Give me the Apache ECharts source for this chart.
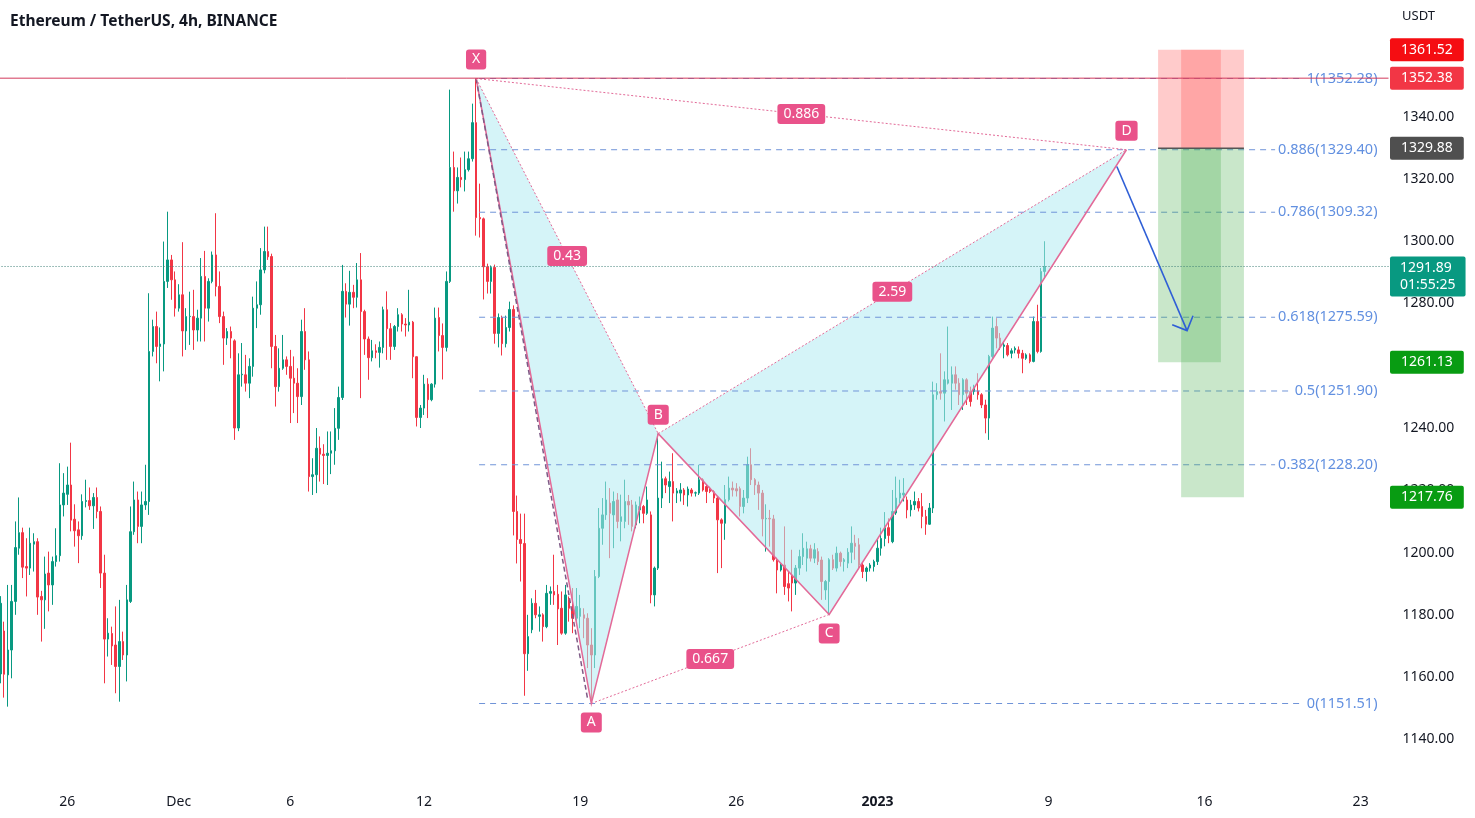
<!DOCTYPE html>
<html>
<head>
<meta charset="utf-8">
<title>Ethereum / TetherUS, 4h</title>
<script src="https://cdn.jsdelivr.net/npm/echarts@6/dist/echarts.min.js"></script>
<style>
html, body { margin: 0; padding: 0; background: #fff; }
#chart { width: 1475px; height: 818px; }
</style>
</head>
<body>
<div id="chart"></div>
<script>
// 4h candles, ETH/USDT (Binance), [open, close, low, high]
var ohlc = [
  [1161, 1183.7, 1158, 1186], [1174.8, 1160.9, 1153.4, 1177.8], [1160.7, 1168.7, 1150.5, 1189.6], [1168.7, 1184.3, 1159.6, 1189.6],
  [1184.3, 1201.6, 1180, 1210], [1201.4, 1206.4, 1199.3, 1217.7], [1206.4, 1195.3, 1191.8, 1208], [1195.5, 1195, 1185.9, 1204.6],
  [1195, 1203, 1192.8, 1208], [1202.7, 1203.5, 1193.9, 1206.2], [1203.5, 1185.7, 1180, 1204.6], [1185.9, 1184.8, 1171.4, 1187.7],
  [1184.8, 1193.1, 1175.5, 1198.7], [1193.4, 1189.6, 1181.1, 1200.3], [1189.6, 1197.1, 1183.2, 1198.7], [1197.1, 1199, 1195.5, 1207.8],
  [1199, 1215.3, 1197.1, 1228.7], [1215.3, 1219.1, 1211.6, 1225.5], [1218.7, 1221.7, 1215.3, 1227.6], [1221.7, 1210.4, 1206.8, 1235.3],
  [1210.7, 1207, 1201.9, 1215.5], [1207.3, 1205.4, 1196.6, 1210], [1205.4, 1216.4, 1204.1, 1218.7], [1216.4, 1216.7, 1214.5, 1223.4],
  [1216.7, 1215, 1213.7, 1220.9], [1215, 1217.7, 1207.6, 1219.1], [1217.7, 1213.2, 1211, 1220.9], [1213.2, 1193.4, 1188.6, 1214.8],
  [1193.4, 1172.2, 1158, 1199.3], [1172.2, 1174.1, 1166.6, 1178.9], [1174, 1170, 1163.9, 1176.2], [1170.3, 1163.4, 1154.8, 1182.7],
  [1163.4, 1171.4, 1152.1, 1184.8], [1171.4, 1167.1, 1165.5, 1174.6], [1167.1, 1184.8, 1158.6, 1189.6], [1184.3, 1206.7, 1183.8, 1214.8],
  [1206.7, 1216.9, 1205.7, 1222.8], [1216.9, 1208.4, 1203, 1219.6], [1208.4, 1215.3, 1203, 1219.6], [1215.3, 1216.4, 1213.7, 1228.2],
  [1216.4, 1264.6, 1212.1, 1283.3], [1264.6, 1272.6, 1263, 1274.8], [1272.6, 1266.2, 1260.8, 1277.4], [1266.2, 1267, 1255, 1272.3],
  [1267, 1287.1, 1258.2, 1299.9], [1287.1, 1294, 1285, 1309.5], [1294, 1287.6, 1281.2, 1295.6], [1287.6, 1278.5, 1275.8, 1290.3],
  [1278.5, 1282.8, 1277.4, 1286.2], [1282.8, 1271.2, 1263, 1299.7], [1271.2, 1275.8, 1265.1, 1278.5], [1275.8, 1275.9, 1266.7, 1283.8],
  [1275.8, 1271.5, 1265.1, 1284.4], [1271.5, 1275.3, 1267.8, 1278], [1275.3, 1288.7, 1267.8, 1294.6], [1288.7, 1278.5, 1267.8, 1296.9],
  [1278.5, 1287.1, 1274.2, 1288.1], [1287.1, 1295.6, 1286.5, 1296.7], [1295.6, 1285.5, 1282.3, 1309], [1285.5, 1275.8, 1273.7, 1290.3],
  [1275.8, 1268.9, 1260.3, 1277.4], [1268.9, 1271, 1266.7, 1272.1], [1271, 1268.9, 1262.4, 1272.6], [1268, 1240, 1236.2, 1268.5],
  [1240, 1257.1, 1239, 1264], [1257.1, 1257.3, 1253.3, 1267.3], [1257.1, 1254.4, 1251.7, 1263.5], [1254.4, 1259.8, 1249.6, 1262.4],
  [1259.8, 1278.5, 1256.5, 1282.2], [1278.5, 1279.6, 1272.1, 1287.1], [1279.6, 1290.8, 1276.4, 1297.8], [1290.8, 1296.7, 1289.7, 1304.7],
  [1296.7, 1295, 1294, 1304.7], [1295.1, 1266.2, 1259.2, 1296], [1266.2, 1253.3, 1246.9, 1269.9], [1253.3, 1259.2, 1251.7, 1265.6],
  [1259.2, 1261.9, 1258.7, 1269.9], [1261.9, 1259.8, 1257.1, 1263], [1259.8, 1256, 1241.6, 1265.1], [1256, 1254.4, 1244.8, 1263],
  [1254.4, 1250.1, 1241.6, 1259.2], [1250.1, 1271, 1247.4, 1274.8], [1271, 1261.9, 1258.7, 1278.5], [1261.9, 1224.4, 1219.6, 1264.6],
  [1224.4, 1225, 1218.5, 1230.3], [1225, 1233.5, 1219.1, 1240], [1233.5, 1231.6, 1222.8, 1237.3], [1231.6, 1231.2, 1222, 1234.8],
  [1231.2, 1231.9, 1221.7, 1238.9], [1231.9, 1232.7, 1225.2, 1238.9], [1232.7, 1239.9, 1228.2, 1246.4], [1239.9, 1249.8, 1236.2, 1253.3],
  [1249.8, 1283.9, 1249, 1292.4], [1283.9, 1279.8, 1275.5, 1286.5], [1279.8, 1283.6, 1272.9, 1290.5], [1283.6, 1282, 1278.5, 1286],
  [1282, 1287.6, 1278.7, 1293], [1287.6, 1277.4, 1249.6, 1296.2], [1277.4, 1268.6, 1263.5, 1278], [1268.6, 1262.6, 1255.5, 1269.4],
  [1262.6, 1264.8, 1261.4, 1268.3], [1264.8, 1264.3, 1262.4, 1266.9], [1264.3, 1265.9, 1259.4, 1267.8], [1265.9, 1278, 1264, 1279],
  [1278, 1271.9, 1261.9, 1283.9], [1271.9, 1266.2, 1261.9, 1273.7], [1266.2, 1272.6, 1265.1, 1273.1], [1272.6, 1276.4, 1271, 1278.5],
  [1276.4, 1273.4, 1271, 1276.9], [1273.4, 1273.1, 1269.4, 1275.3], [1273.1, 1274, 1271, 1284.4], [1274, 1262.9, 1256, 1274.4],
  [1262.9, 1243.4, 1240.5, 1263], [1243.4, 1246.4, 1240, 1247.4], [1246.4, 1254.1, 1244.2, 1257.1], [1254.1, 1249.1, 1243.2, 1256],
  [1249.1, 1254.1, 1248.6, 1254.4], [1254.1, 1275.3, 1253, 1278.7], [1275.5, 1269.7, 1264.6, 1278.7], [1269.7, 1265.9, 1255.6, 1273.6],
  [1265.9, 1287.1, 1264.6, 1290.3], [1287.1, 1323.7, 1286.6, 1348.7], [1323.7, 1316.2, 1309.5, 1328.8], [1316.2, 1320.5, 1312.1, 1323.7],
  [1320.5, 1319.8, 1317.3, 1326.9], [1319.8, 1323, 1316, 1328.8], [1323, 1326.5, 1322.4, 1328.8], [1326.5, 1338.1, 1325.6, 1344.2],
  [1338.1, 1307.6, 1301.8, 1352.28], [1307.6, 1307.2, 1301.2, 1318.5], [1307.2, 1291.8, 1281.3, 1307.6], [1291.8, 1287.1, 1283.2, 1292.8],
  [1287.1, 1291.6, 1283.2, 1292.2], [1291.6, 1270.4, 1267.1, 1292.5], [1270.4, 1275.5, 1265.9, 1276.8], [1275.5, 1267.1, 1263.3, 1276.1],
  [1267.1, 1272.3, 1265.9, 1276.1], [1272.3, 1278.1, 1271, 1280.6], [1278.1, 1213.2, 1205.5, 1279.4], [1213.2, 1204.2, 1196.5, 1218.3],
  [1204.2, 1202.9, 1190.7, 1212.5], [1202.9, 1167.5, 1154, 1212.5], [1167.5, 1173, 1162, 1180], [1175.2, 1183.7, 1174.1, 1185.3],
  [1183.7, 1180, 1178.9, 1188], [1179.5, 1180, 1174.6, 1182.7], [1180, 1176.2, 1171.4, 1180.5], [1176.2, 1186.9, 1175.7, 1189.6],
  [1186.9, 1187.5, 1183.2, 1189.1], [1187.5, 1186.4, 1183.2, 1199.3], [1186.6, 1181.9, 1170.3, 1189.6], [1182.1, 1174.1, 1173.6, 1187.5],
  [1174.1, 1186.4, 1173.6, 1189.6], [1185, 1182.1, 1177.8, 1185.9], [1182.1, 1178.9, 1174.1, 1188.6], [1178.9, 1182.7, 1177.8, 1188.6],
  [1179.5, 1182.1, 1175.7, 1186.4], [1180, 1178.9, 1172.5, 1182.1], [1178.9, 1170.3, 1162.9, 1180.5], [1170.3, 1167.1, 1151.51, 1175.7],
  [1167.1, 1192.3, 1162.9, 1194.4], [1192.3, 1207.8, 1191.8, 1214.3], [1207.8, 1212.1, 1202.5, 1217.5], [1212.1, 1216.9, 1210.5, 1222.8],
  [1215.9, 1212.6, 1198.2, 1220.7], [1212.1, 1216.4, 1201.4, 1219.6], [1216.9, 1210, 1207.8, 1219.1], [1210, 1211.5, 1203.6, 1218.6],
  [1210, 1216.4, 1207.8, 1223.4], [1216.4, 1215.3, 1208.9, 1218.5], [1215.3, 1208.4, 1206.8, 1216.9], [1208.9, 1215.3, 1207.8, 1216.4],
  [1213.7, 1214.8, 1209.4, 1218], [1214.8, 1212.6, 1209.4, 1215.3], [1212.6, 1216.9, 1212.1, 1221.2], [1212.1, 1186.4, 1183.7, 1213.2],
  [1186.4, 1195, 1182.7, 1195.5], [1195, 1217.5, 1194.4, 1238.2], [1217.5, 1223.7, 1214.3, 1229.2], [1223.7, 1221.7, 1219.1, 1224.4],
  [1221.2, 1222.8, 1215.9, 1226], [1222.8, 1219.1, 1210, 1231.9], [1219.1, 1219.8, 1215.9, 1220.7], [1219.1, 1220.1, 1216.4, 1222.3],
  [1220.1, 1218.5, 1215.3, 1220.7], [1218.5, 1220.4, 1214.8, 1221.2], [1220.1, 1219.1, 1218, 1220.7], [1219.1, 1219.2, 1218, 1219.6],
  [1219.1, 1223.4, 1218.5, 1228.2], [1223.4, 1220.1, 1219.6, 1223.9], [1221.2, 1219.6, 1215.9, 1221.7], [1220.7, 1219.6, 1219.1, 1221.2],
  [1219.6, 1217.5, 1215.9, 1220.1], [1217.5, 1210.5, 1193.4, 1218], [1210.5, 1209.4, 1195, 1211], [1209.4, 1217, 1204.1, 1221.7],
  [1217, 1220.7, 1216.4, 1224.4], [1220.7, 1220.1, 1218, 1222.8], [1220.5, 1219.8, 1218, 1222.3], [1220.5, 1214.8, 1211.6, 1221.2],
  [1214.8, 1217.5, 1212.6, 1220.1], [1217.5, 1228.2, 1215.9, 1230.8], [1228.2, 1223.4, 1221.7, 1233.5], [1223.4, 1221.7, 1218.5, 1223.9],
  [1221.7, 1219.1, 1213.7, 1222.8], [1219.1, 1210.8, 1205.2, 1220.1], [1210.8, 1211, 1200.3, 1215.5], [1211, 1210.8, 1201.9, 1213.7],
  [1210.8, 1197.7, 1197.1, 1212.1], [1197.7, 1194.4, 1186.9, 1198.4], [1194.4, 1196, 1193.9, 1196.6], [1196, 1189.1, 1186.4, 1208.4],
  [1190, 1188.6, 1184.3, 1193.9], [1192.8, 1190.2, 1181.1, 1200.9], [1190.2, 1195, 1186.4, 1196], [1195, 1198.7, 1192.8, 1200.9],
  [1198.7, 1201.4, 1196, 1206.2], [1198.2, 1201.2, 1193.9, 1203.5], [1201.2, 1198.2, 1197.1, 1202.5], [1198.2, 1200.9, 1196.6, 1203],
  [1200.3, 1197.1, 1196, 1201.4], [1197.6, 1190.7, 1184.8, 1198.7], [1188, 1190.7, 1184.8, 1191.2], [1190.7, 1197.7, 1180.1, 1198.2],
  [1197.7, 1195, 1194.4, 1199.3], [1195, 1199.8, 1193.9, 1201.9], [1199.8, 1197.1, 1195.5, 1200.3], [1197.1, 1197.7, 1193.9, 1198.2],
  [1196.6, 1200.1, 1195, 1201.4], [1200.1, 1203, 1196.6, 1208.4], [1203, 1202, 1197.7, 1205.7], [1202.5, 1196, 1195, 1204.6],
  [1196, 1193.9, 1191.8, 1196.6], [1193.9, 1195, 1190.7, 1195.5], [1195, 1196, 1193.9, 1196.6], [1195.5, 1197.1, 1193.9, 1197.7],
  [1197.1, 1201.4, 1196, 1204.6], [1201.4, 1204.5, 1199, 1208], [1204.5, 1208, 1202, 1213], [1208, 1205.5, 1203, 1211],
  [1203.5, 1213.2, 1203, 1220.1], [1212.7, 1217.5, 1212.1, 1224.4], [1217.5, 1219.1, 1215.9, 1223.4], [1218.5, 1219.1, 1216.4, 1223.9],
  [1216.9, 1213.7, 1211, 1218], [1213.7, 1215.3, 1211.6, 1216.9], [1215.3, 1216.4, 1213.7, 1219.6], [1216.4, 1214.3, 1213.2, 1217.5],
  [1214.8, 1211.6, 1207.8, 1219.1], [1211.6, 1209.1, 1205.7, 1213.7], [1209.1, 1214.3, 1208.9, 1215.9], [1214.3, 1250.7, 1212.7, 1254.9],
  [1250.7, 1251.7, 1249.1, 1254.4], [1251.7, 1251.2, 1249.1, 1264], [1251.2, 1255.5, 1242.1, 1258.2], [1254.4, 1255.5, 1254, 1272.6],
  [1254.4, 1257.1, 1245.8, 1259.8], [1257.1, 1254.4, 1252.3, 1259.8], [1254.4, 1250.7, 1247.4, 1256], [1250.7, 1255.5, 1245.8, 1256],
  [1255.5, 1251.2, 1247.4, 1256], [1251.7, 1248.5, 1246.9, 1253.3], [1251.7, 1252.8, 1250.7, 1253.9], [1251.9, 1250.7, 1249.1, 1257.6],
  [1250.7, 1247.4, 1246.4, 1251.2], [1247.4, 1243.2, 1238.3, 1249.1], [1243.2, 1263, 1236.2, 1263.5], [1263, 1272.1, 1262.4, 1275.8],
  [1272.6, 1268.9, 1265.6, 1275.3], [1268.9, 1266.2, 1265.1, 1270.5], [1266.2, 1266.7, 1262.4, 1267.8], [1266.5, 1263.5, 1263, 1267.3],
  [1264, 1264.8, 1262.4, 1265.6], [1265.1, 1265.6, 1264, 1266.2], [1265.1, 1264, 1262.4, 1266.2], [1264, 1262.4, 1257.6, 1265.1],
  [1262.4, 1263.5, 1261.9, 1264], [1263.5, 1261.4, 1260.8, 1264], [1261.4, 1274.2, 1261.1, 1275.8], [1274.2, 1264.6, 1264, 1279.6],
  [1264.6, 1290.3, 1264.2, 1291.4], [1290.3, 1291.89, 1288.1, 1300]
];

// time slots (4h) from 23 Nov 2022 up to the right edge, incl. empty future slots
var slotCount = 374;
var categories = [];
for (var i = 0; i < slotCount; i++) {
  var d = new Date(Date.UTC(2022, 10, 23) + i * 4 * 3600 * 1000);
  var pad = function (n) { return (n < 10 ? '0' : '') + n; };
  categories.push(d.getUTCFullYear() + '-' + pad(d.getUTCMonth() + 1) + '-' + pad(d.getUTCDate()) + ' ' + pad(d.getUTCHours()) + ':00');
}
var tickSlots = ['2022-11-26 00:00', '2022-12-01 00:00', '2022-12-06 00:00', '2022-12-12 00:00', '2022-12-19 00:00',
  '2022-12-26 00:00', '2023-01-01 08:00', '2023-01-09 00:00', '2023-01-16 00:00', '2023-01-23 00:00'];
var tickLabels = ['26', 'Dec', '6', '12', '19', '26', '2023', '9', '16', '23'];

// harmonic pattern (slot index, price)
var patternNames = ['X', 'A', 'B', 'C', 'D'];
var patternIdx = [128, 159, 177, 223, 303];
var patternVal = [1352.28, 1151.51, 1238.2, 1180.1, 1329.4];
var ratioPairs = [[0, 4], [0, 2], [1, 3], [2, 4]];
var ratioLabels = ['0.886', '0.43', '0.667', '2.59'];
var dashEnd = [158, 1153];

// fib levels
var fibRatios = ['1', '0.886', '0.786', '0.618', '0.5', '0.382', '0'];
var fibValues = [1352.28, 1329.40, 1309.32, 1275.59, 1251.90, 1228.20, 1151.51];

// short position boxes
var posLeft = [311.5, 317.7];
var posRight = [328.4, 334.6];
var posStop = [1361.52, 1361.52];
var posEntry = 1329.88;
var posTarget = [1261.13, 1217.76];

var arrowIdx = [300.4, 319.3];
var arrowVal = [1324.0, 1271.3];

// price scale tags
var tagValues = [1361.52, 1352.38, 1329.88, 1291.89, 1261.13, 1217.76];
var tagColors = ['#f50d12', '#f23645', '#4f4f4f', '#089981', '#089c12', '#089c12'];
var lastPrice = 1291.89;
var countdown = '01:55:25';
var hLine = 1352.38;

var FONT = '"Noto Sans", sans-serif';
var pink = '#e9528a';
var pinkLine = '#e36a98';

function pt(api, idx, val) {
  var i0 = Math.floor(idx);
  var p = api.coord([i0, val]);
  return [p[0] + (idx - i0) * api.size([1, 0])[0], p[1]];
}

function seg(a, b, color, width, dash, z2) {
  return { type: 'line', z2: z2, shape: { x1: a[0], y1: a[1], x2: b[0], y2: b[1] },
    style: { stroke: color, lineWidth: width, lineDash: dash || null } };
}

function renderOverlay(params, api) {
  var bw = api.size([1, 0])[0];
  var left = api.coord([0, 1200])[0] - bw / 2;
  var right = api.coord([slotCount - 1, 1200])[0] + bw / 2;
  var yOf = function (v) { return api.coord([0, v])[1]; };
  var P = patternIdx.map(function (idx, k) { return pt(api, idx, patternVal[k]); });
  var kids = [];

  // pattern fill (over candles)
  var fill = 'rgba(178,235,242,0.55)';
  kids.push({ type: 'polygon', z2: 0, shape: { points: [P[0], P[1], P[2]] }, style: { fill: fill } });
  kids.push({ type: 'polygon', z2: 0, shape: { points: [P[2], P[3], P[4]] }, style: { fill: fill } });

  // fib retracement
  fibValues.forEach(function (v, k) {
    var y = yOf(v);
    kids.push(seg([P[0][0] + 3, y], [right - 10, y], '#7094d8', 1, [6, 5], 1));
    kids.push({ type: 'text', z2: 2, x: right - 8, y: y,
      style: { text: fibRatios[k] + '(' + v.toFixed(2) + ')', fill: '#6290e0', font: '14.5px ' + FONT,
        align: 'right', verticalAlign: 'middle', backgroundColor: '#fff', padding: [1, 3] } });
  });

  // position boxes
  for (var b = 0; b < posLeft.length; b++) {
    var xl = pt(api, posLeft[b], posEntry)[0];
    var xr = pt(api, posRight[b], posEntry)[0];
    var ys = yOf(posStop[b]), ye = yOf(posEntry), yt = yOf(posTarget[b]);
    kids.push({ type: 'rect', z2: 1, shape: { x: xl, y: ys, width: xr - xl, height: ye - ys }, style: { fill: 'rgba(255,82,82,0.3)' } });
    kids.push({ type: 'rect', z2: 1, shape: { x: xl, y: ye, width: xr - xl, height: yt - ye }, style: { fill: 'rgba(76,175,80,0.3)' } });
  }
  var xe1 = pt(api, posLeft[0], posEntry)[0];
  var xe2 = pt(api, posRight[1], posEntry)[0];
  kids.push(seg([xe1, yOf(posEntry)], [xe2, yOf(posEntry)], '#555', 1.5, null, 2));

  // current price + horizontal line
  kids.push(seg([left, yOf(lastPrice)], [right, yOf(lastPrice)], '#3f7f77', 1, [1, 2], 1));
  kids.push(seg([left, yOf(hLine)], [right, yOf(hLine)], '#d23a5c', 1, null, 4));

  // pattern legs
  kids.push({ type: 'polyline', z2: 3, shape: { points: P }, style: { stroke: pinkLine, lineWidth: 1.5, fill: null } });
  kids.push(seg(P[0], pt(api, dashEnd[0], dashEnd[1]), '#7e5a86', 1.5, [5, 3], 3));
  ratioPairs.forEach(function (pr) { kids.push(seg(P[pr[0]], P[pr[1]], pinkLine, 1, [2, 2], 3)); });

  // arrow
  var s = pt(api, arrowIdx[0], arrowVal[0]);
  var t = pt(api, arrowIdx[1], arrowVal[1]);
  var dx = s[0] - t[0], dy = s[1] - t[1], len = Math.sqrt(dx * dx + dy * dy);
  dx /= len; dy /= len;
  var c = Math.cos(Math.PI / 4), sn = Math.sin(Math.PI / 4), L = 16;
  var w1 = [t[0] + L * (dx * c - dy * sn), t[1] + L * (dx * sn + dy * c)];
  var w2 = [t[0] + L * (dx * c + dy * sn), t[1] + L * (-dx * sn + dy * c)];
  kids.push(seg(s, t, '#2f5fd6', 1.6, null, 5));
  kids.push({ type: 'polyline', z2: 5, shape: { points: [w1, t, w2] }, style: { stroke: '#2f5fd6', lineWidth: 1.6, fill: null } });

  // ratio labels
  ratioPairs.forEach(function (pr, k) {
    var a = P[pr[0]], e = P[pr[1]];
    kids.push({ type: 'text', z2: 6, x: (a[0] + e[0]) / 2, y: (a[1] + e[1]) / 2,
      style: { text: ratioLabels[k], fill: '#fff', font: '14px ' + FONT, align: 'center', verticalAlign: 'middle',
        backgroundColor: pink, padding: [3, 6], borderRadius: 3 } });
  });
  // point labels
  P.forEach(function (p, k) {
    var below = k % 2 === 1;
    kids.push({ type: 'text', z2: 6, x: p[0], y: below ? p[1] + 9 : p[1] - 9,
      style: { text: patternNames[k], fill: '#fff', font: '14px ' + FONT, align: 'center',
        verticalAlign: below ? 'top' : 'bottom', backgroundColor: pink, padding: [3, 6], borderRadius: 3 } });
  });

  // price scale tags
  tagValues.forEach(function (v, k) {
    var isLast = v === lastPrice;
    kids.push({ type: 'text', z2: 7, x: right + 1.5, y: isLast ? yOf(v) - 10 : yOf(v),
      style: { text: isLast ? v.toFixed(2) + '\n' + countdown : v.toFixed(2), fill: '#fff', font: '14px ' + FONT,
        align: 'left', verticalAlign: isLast ? 'top' : 'middle', lineHeight: 17,
        backgroundColor: tagColors[k], padding: isLast ? [3, 10] : [3, 11], borderRadius: 2 } });
  });

  return { type: 'group', children: kids };
}

var chart = echarts.init(document.getElementById('chart'));
var option = {
  animation: false,
  backgroundColor: '#fff',
  textStyle: { fontFamily: FONT },
  title: {
    text: 'Ethereum / TetherUS, 4h, BINANCE', left: 5, top: 9,
    textStyle: { fontSize: 15.5, fontWeight: 'bold', color: '#131722', fontFamily: FONT }
  },
  graphic: [{ type: 'text', left: 1402, top: 10, style: { text: 'USDT', fill: '#131722', font: '13px ' + FONT } }],
  grid: { left: -1.46, right: 86.5, top: -7.8, bottom: 16.4, outerBoundsMode: 'none' },
  xAxis: {
    type: 'category',
    data: categories,
    axisLine: { show: false },
    axisTick: { show: false },
    splitLine: { show: false },
    axisLabel: {
      margin: 0, verticalAlign: 'middle', fontSize: 14, color: '#131722',
      interval: function (index, value) { return tickSlots.indexOf(value) >= 0; },
      formatter: function (value) {
        var k = tickSlots.indexOf(value);
        if (k < 0) return '';
        return tickLabels[k] === '2023' ? '{b|2023}' : tickLabels[k];
      },
      rich: { b: { fontWeight: 'bold', fontSize: 14, color: '#131722' } }
    }
  },
  yAxis: {
    type: 'value',
    position: 'right',
    min: 1120, max: 1380, interval: 20,
    axisLine: { show: false },
    axisTick: { show: false },
    splitLine: { show: false },
    axisLabel: {
      margin: 14, fontSize: 14, color: '#131722', showMinLabel: false, showMaxLabel: false,
      formatter: function (v) { return v.toFixed(2); }
    }
  },
  series: [
    {
      type: 'candlestick',
      data: ohlc,
      barWidth: 2,
      itemStyle: { color: '#089981', color0: '#f23645', borderColor: '#089981', borderColor0: '#f23645', borderWidth: 1 }
    },
    {
      type: 'custom',
      z: 3,
      silent: true,
      clip: false,
      data: [[0, 1250]],
      renderItem: renderOverlay
    }
  ]
};
chart.setOption(option);
</script>
</body>
</html>
